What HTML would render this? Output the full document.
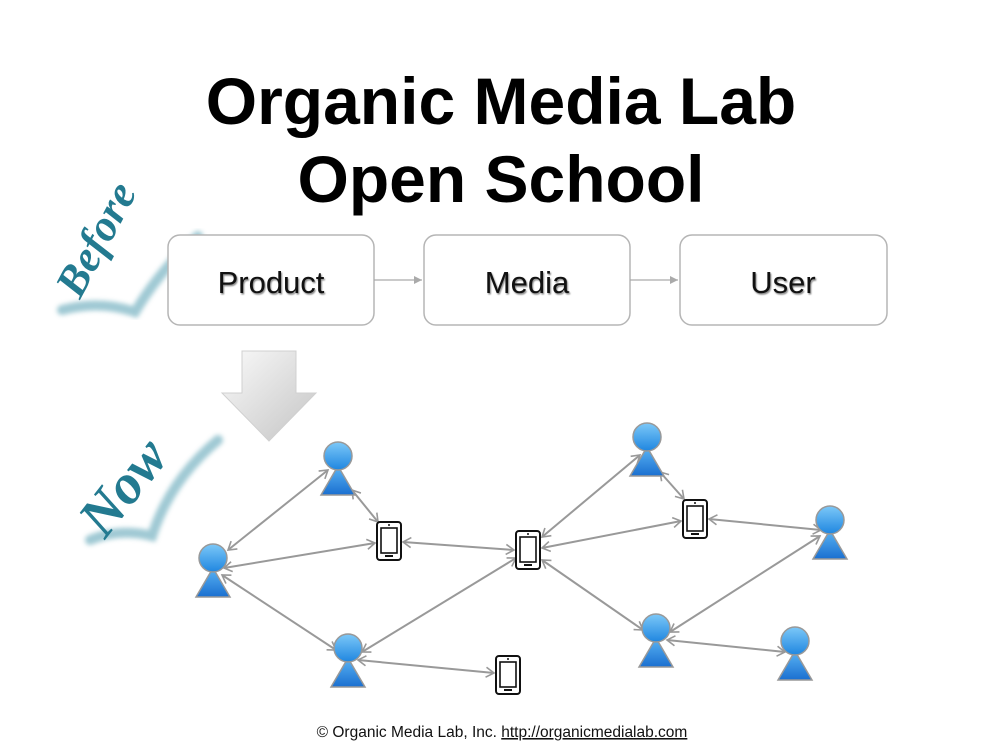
<!DOCTYPE html>
<html><head><meta charset="utf-8"><style>
html,body{margin:0;padding:0;background:#fff;}
body{width:1005px;height:752px;overflow:hidden;position:relative;}
</style></head><body>
<svg width="1005" height="752" viewBox="0 0 1005 752" xmlns="http://www.w3.org/2000/svg" style="position:absolute;left:0;top:0">
<defs>
<marker id="ah" markerWidth="12" markerHeight="12" refX="10" refY="6" orient="auto-start-reverse" markerUnits="userSpaceOnUse">
<path d="M2,1 L10,6 L2,11" fill="none" stroke="#999" stroke-width="1.6"/>
</marker>
<marker id="bh" markerWidth="10" markerHeight="10" refX="8" refY="5" orient="auto" markerUnits="userSpaceOnUse">
<path d="M0,1 L8,5 L0,9 Z" fill="#aaa"/>
</marker>
<linearGradient id="head" x1="0" y1="0" x2="0" y2="1"><stop offset="0" stop-color="#7cc8f8"/><stop offset="1" stop-color="#1f86e0"/></linearGradient>
<linearGradient id="body" x1="0" y1="0" x2="0" y2="1"><stop offset="0" stop-color="#5ab4f4"/><stop offset="1" stop-color="#1a6fd0"/></linearGradient>
<linearGradient id="arr" x1="0" y1="0" x2="1" y2="1"><stop offset="0" stop-color="#fafafa"/><stop offset="1" stop-color="#c4c4c4"/></linearGradient>
<filter id="blur"><feGaussianBlur stdDeviation="2.5"/></filter>
<filter id="sh"><feGaussianBlur stdDeviation="0.8"/></filter>
<g id="person">
<path d="M0,10 L17,39 L-17,39 Z" fill="url(#body)" stroke="#999" stroke-width="1.5"/>
<circle cx="0" cy="0" r="14" fill="url(#head)" stroke="#999" stroke-width="1.5"/>
</g>
<g id="phone">
<rect x="-12" y="-19" width="24" height="38" rx="3" fill="#fff" stroke="#111" stroke-width="2"/>
<rect x="-8" y="-13" width="16" height="25" fill="#fff" stroke="#111" stroke-width="1.6"/>
<rect x="-4" y="14" width="8" height="2" fill="#111"/>
<circle cx="0" cy="-16" r="1" fill="#111"/>
</g>
</defs>

<text x="501" y="124" text-anchor="middle" font-family="Liberation Sans, sans-serif" font-weight="bold" font-size="66">Organic Media Lab</text>
<text x="501" y="202" text-anchor="middle" font-family="Liberation Sans, sans-serif" font-weight="bold" font-size="66">Open School</text>

<!-- checkmark strokes -->
<path d="M62,310 Q100,300 135,312 Q160,270 198,236" fill="none" stroke="#8fc0cc" stroke-width="10" stroke-linecap="round" filter="url(#blur)" opacity="0.85"/>
<path d="M90,540 Q120,528 152,536 Q170,480 218,440" fill="none" stroke="#8fc0cc" stroke-width="10" stroke-linecap="round" filter="url(#blur)" opacity="0.85"/>
<text x="0" y="0" transform="translate(80,300) rotate(-62)" font-family="Liberation Serif, serif" font-style="italic" font-weight="bold" font-size="44" fill="#237a90">Before</text>
<text x="0" y="0" transform="translate(105,540) rotate(-52)" font-family="Liberation Serif, serif" font-style="italic" font-weight="bold" font-size="56" fill="#237a90">Now</text>

<!-- boxes -->
<rect x="168" y="235" width="206" height="90" rx="12" fill="#fff" stroke="#b5b5b5" stroke-width="1.5"/>
<rect x="424" y="235" width="206" height="90" rx="12" fill="#fff" stroke="#b5b5b5" stroke-width="1.5"/>
<rect x="680" y="235" width="207" height="90" rx="12" fill="#fff" stroke="#b5b5b5" stroke-width="1.5"/>
<g font-family="Liberation Sans Narrow, Liberation Sans, sans-serif" font-size="31" text-anchor="middle">
<g fill="#888" filter="url(#sh)" transform="translate(1,1.5)">
<text x="271" y="293">Product</text><text x="527" y="293">Media</text><text x="783" y="293">User</text>
</g>
<g fill="#111">
<text x="271" y="293">Product</text><text x="527" y="293">Media</text><text x="783" y="293">User</text>
</g>
</g>
<line x1="374" y1="280" x2="422" y2="280" stroke="#aaa" stroke-width="1.3" marker-end="url(#bh)"/>
<line x1="630" y1="280" x2="678" y2="280" stroke="#aaa" stroke-width="1.3" marker-end="url(#bh)"/>

<!-- down arrow -->
<path d="M242,351 L296,351 L296,393 L316,393 L269,441 L222,393 L242,393 Z" fill="url(#arr)" stroke="#d0d0d0" stroke-width="1"/>

<!-- edges -->
<g stroke="#999" stroke-width="2" fill="none" marker-start="url(#ah)" marker-end="url(#ah)">
<line x1="228" y1="550" x2="328" y2="470"/>
<line x1="224" y1="568" x2="375" y2="543"/>
<line x1="222" y1="575" x2="336" y2="650"/>
<line x1="352" y1="490" x2="378" y2="522"/>
<line x1="403" y1="542" x2="514" y2="550"/>
<line x1="362" y1="652" x2="516" y2="558"/>
<line x1="358" y1="660" x2="494" y2="673"/>
<line x1="542" y1="537" x2="640" y2="455"/>
<line x1="542" y1="548" x2="681" y2="521"/>
<line x1="542" y1="560" x2="643" y2="630"/>
<line x1="660" y1="472" x2="684" y2="499"/>
<line x1="709" y1="519" x2="821" y2="530"/>
<line x1="820" y1="536" x2="670" y2="632"/>
<line x1="667" y1="640" x2="785" y2="652"/>
</g>

<use href="#person" x="338" y="456"/>
<use href="#person" x="213" y="558"/>
<use href="#person" x="348" y="648"/>
<use href="#person" x="647" y="437"/>
<use href="#person" x="830" y="520"/>
<use href="#person" x="656" y="628"/>
<use href="#person" x="795" y="641"/>
<use href="#phone" x="389" y="541"/>
<use href="#phone" x="528" y="550"/>
<use href="#phone" x="695" y="519"/>
<use href="#phone" x="508" y="675"/>

<text x="502" y="737" text-anchor="middle" font-family="Liberation Sans, sans-serif" font-size="15.5" fill="#111">© Organic Media Lab, Inc. <tspan text-decoration="underline">http://organicmedialab.com</tspan></text>
</svg>
</body></html>
